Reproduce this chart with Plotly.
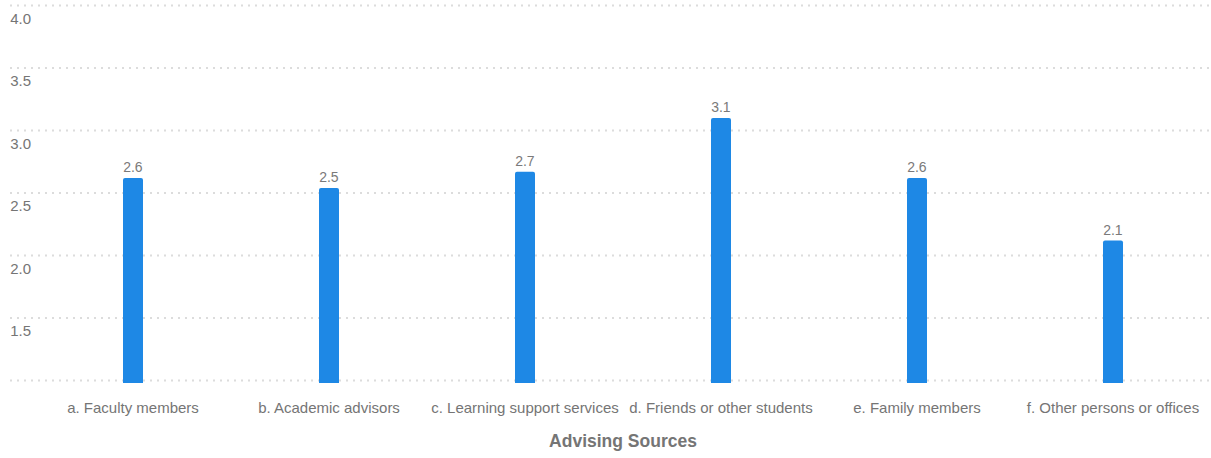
import plotly.graph_objects as go

categories = ["a. Faculty members", "b. Academic advisors", "c. Learning support services",
              "d. Friends or other students", "e. Family members", "f. Other persons or offices"]
values = [2.62, 2.54, 2.67, 3.10, 2.62, 2.12]
ytick_vals = [1.0, 1.5, 2.0, 2.5, 3.0, 3.5, 4.0]
ytick_text = ["", "1.5", "2.0", "2.5", "3.0", "3.5", "4.0"]

GRAY = "#757575"
FONT = "Liberation Sans, Arial, sans-serif"
W, H = 1211, 458
ML, MR = 35, 0

fig = go.Figure(go.Bar(
    x=list(range(len(categories))), y=values,
    width=0.102,
    marker=dict(color="#1e88e5", cornerradius=2, line=dict(width=0)),
    text=[f"{v:.1f}" for v in values], textposition="outside",
    textfont=dict(color="#7a7a7a", size=14, family=FONT),
    cliponaxis=False,
))

# dotted grid lines extending slightly left of the plot area (under the tick labels)
grid_x0 = -(ML - 10) / (W - ML - MR)
for v in ytick_vals:
    fig.add_shape(type="line", xref="paper", yref="y", x0=grid_x0, x1=1, y0=v, y1=v,
                  layer="below", line=dict(color="#dcdcdc", width=2, dash="2px,5px"))

fig.update_layout(
    width=W, height=H,
    margin=dict(l=ML, r=MR, t=2.5, b=74.5, autoexpand=False),
    paper_bgcolor="white", plot_bgcolor="white",
    font=dict(family=FONT, color=GRAY, size=15),
    showlegend=False,
    xaxis=dict(
        tickmode="array", tickvals=list(range(len(categories))), ticktext=categories,
        range=[-0.5, 5.5], showgrid=False, zeroline=False, showline=False,
        ticks="outside", ticklen=11, tickcolor="rgba(0,0,0,0)",
        tickfont=dict(size=15, color=GRAY), automargin=False,
        title=dict(text="<b>Advising Sources</b>", font=dict(size=17.5, color=GRAY), standoff=19),
    ),
    yaxis=dict(
        range=[0.98, 4.02], tickmode="array", tickvals=ytick_vals, ticktext=ytick_text,
        ticklabelposition="outside", automargin=False,
        ticklabelshift=13, ticklabelstandoff=3,
        showgrid=False, zeroline=False, showline=False,
        tickfont=dict(size=15, color=GRAY),
    ),
)

fig.write_html("out.html", config={"displayModeBar": False},
               post_script="document.body.style.margin='0';")
